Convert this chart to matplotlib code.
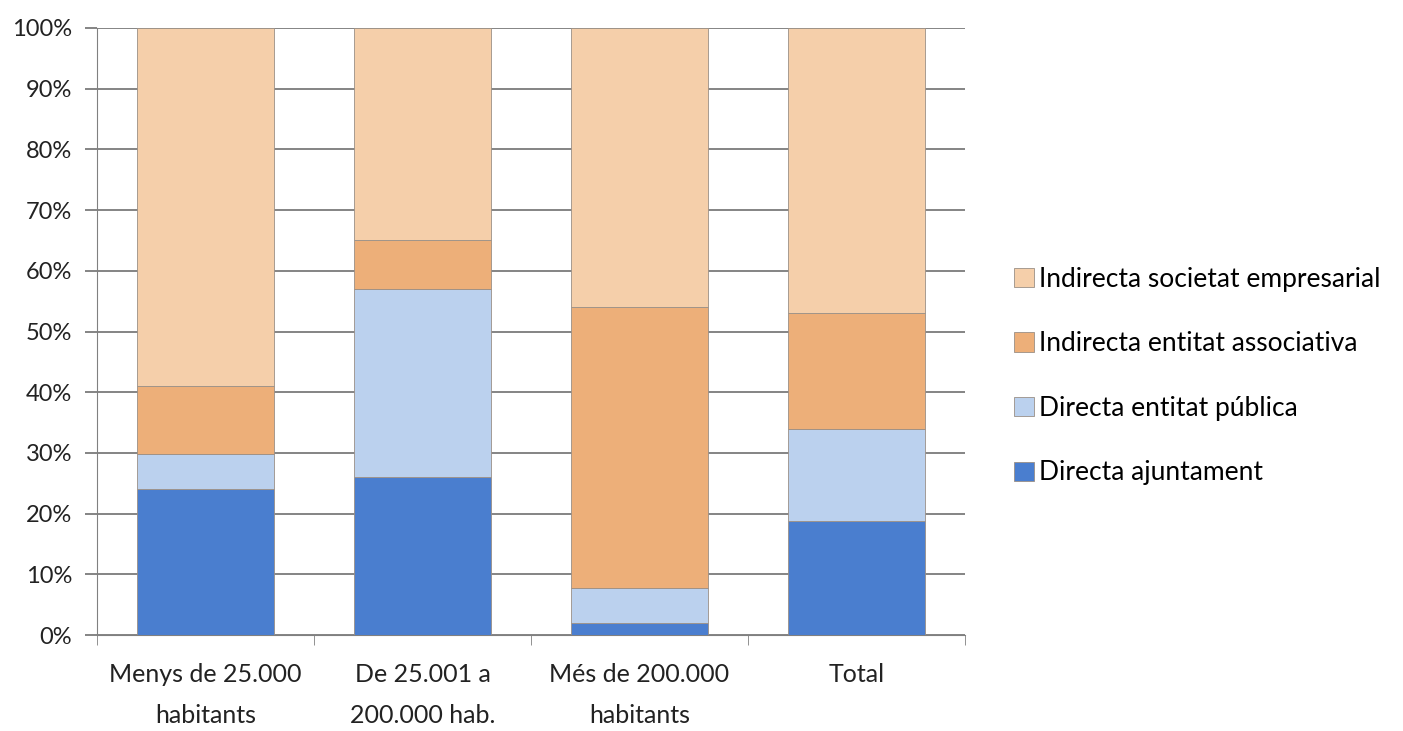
import matplotlib
matplotlib.use("Agg")
import matplotlib.pyplot as plt
import numpy as np

categories = ["Menys de 25.000\nhabitants", "De 25.001 a\n200.000 hab.", "Més de 200.000\nhabitants", "Total"]
directa_ajuntament = [24.0, 26.0, 1.9, 18.7]
directa_publica = [5.8, 31.0, 5.9, 15.2]
indirecta_associativa = [11.3, 8.1, 46.2, 19.2]
indirecta_societat = [58.9, 34.9, 46.0, 46.9]

series = [
    ("Directa ajuntament", directa_ajuntament, "#4A7ECF"),
    ("Directa entitat pública", directa_publica, "#BBD1EE"),
    ("Indirecta entitat associativa", indirecta_associativa, "#EDAF79"),
    ("Indirecta societat empresarial", indirecta_societat, "#F5CFAA"),
]

plt.rcParams['font.family'] = ['Lato', 'DejaVu Sans']

fig = plt.figure(figsize=(14.03, 7.31), dpi=100)
ax = fig.add_axes([97/1403, 1-635/731, (965-97)/1403, (635-28)/731])

x = np.arange(len(categories))
bottom = np.zeros(len(categories))
handles = []
for name, vals, col in series:
    b = ax.bar(x, vals, width=0.63, bottom=bottom, color=col, edgecolor="#9a8f86",
               linewidth=0.6, label=name, zorder=3)
    handles.append(b)
    bottom += np.array(vals)

ax.set_xlim(-0.5, len(categories) - 0.5)
ax.set_ylim(0, 100)
ax.set_yticks(np.arange(0, 101, 10))
ax.set_yticklabels([f"{v}%" for v in range(0, 101, 10)], fontsize=17, color="#222222")
ax.yaxis.grid(True, color="#707070", linewidth=1.2, zorder=0)
ax.set_axisbelow(True)

ax.set_xticks(x)
ax.set_xticklabels(categories, fontsize=18, color="#222222", linespacing=1.95)
ax.set_xticks(np.arange(-0.5, len(categories), 1), minor=True)
ax.tick_params(axis='x', which='major', length=0, pad=20)
ax.tick_params(axis='x', which='minor', length=7, color="#808080", direction='out')
ax.tick_params(axis='y', length=9, width=1.2, color="#707070", direction='out', pad=9)
for s in ["top", "right"]:
    ax.spines[s].set_visible(False)
ax.spines["left"].set_color("#808080")
ax.spines["bottom"].set_color("#808080")

leg = fig.legend(handles[::-1], [s[0] for s in series][::-1], loc="center left",
                 bbox_to_anchor=(990/1403, 1-376/731), frameon=False, fontsize=19,
                 handlelength=0.75, handleheight=0.75, handletextpad=0.2, labelspacing=1.5)

fig.savefig("out.png", dpi=100)
